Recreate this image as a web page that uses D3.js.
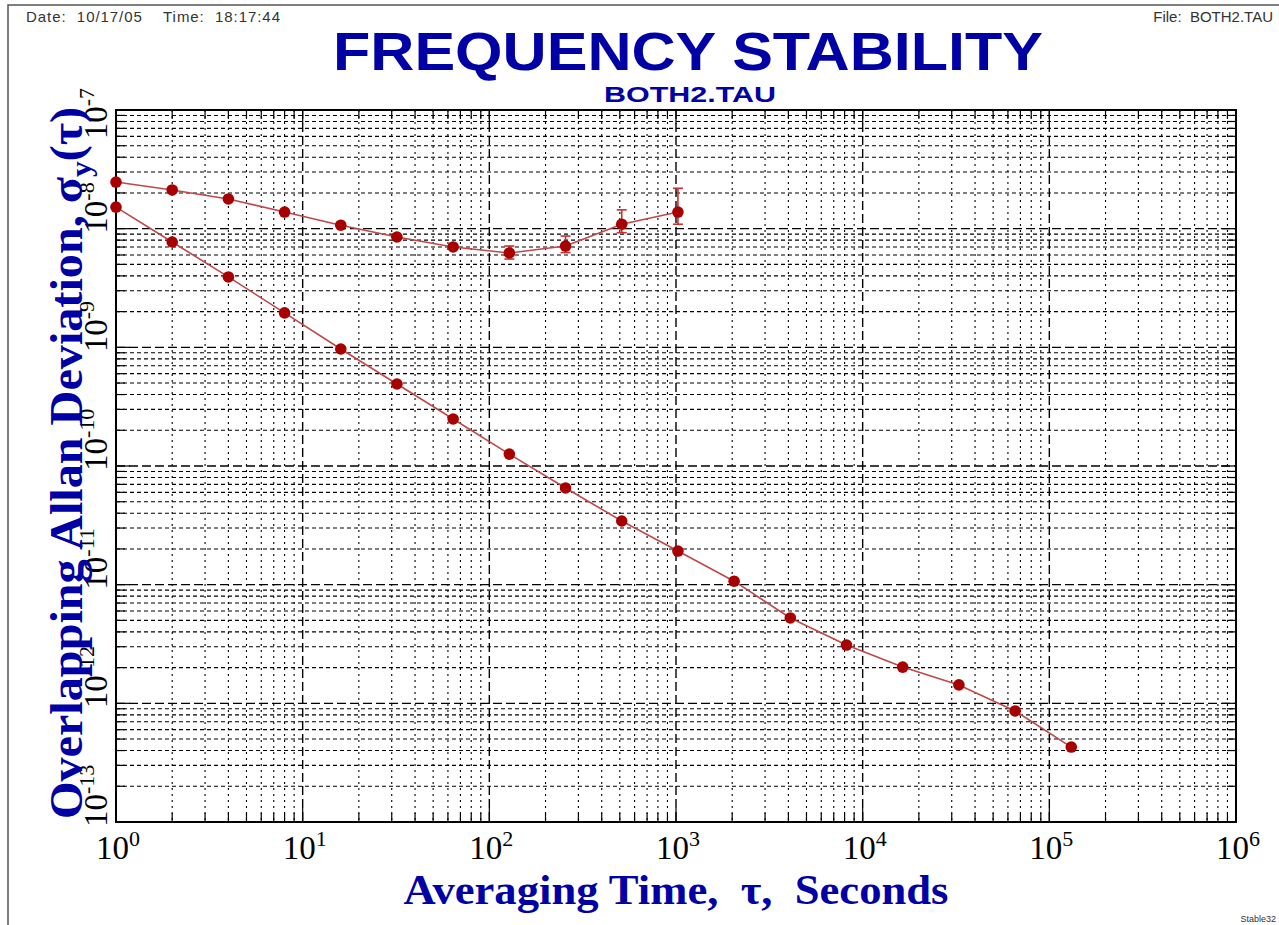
<!DOCTYPE html>
<html>
<head>
<meta charset="utf-8">
<script src="https://cdn.jsdelivr.net/npm/d3@7"></script>
<style>
  body { margin: 0; background: #fff; }
</style>
</head>
<body>
<svg id="chart" width="1279" height="925"></svg>
<script>
// averaging times and Allan deviation values
const tauLower = [1, 2, 4, 8, 16, 32, 64, 128, 256, 512, 1024, 2048, 4096, 8192, 16384, 32768, 65536, 131072];
const adevLower = [1.52e-8, 7.72e-9, 3.92e-9, 1.95e-9, 9.68e-10, 4.91e-10, 2.49e-10, 1.26e-10, 6.53e-11,
    3.44e-11, 1.92e-11, 1.07e-11, 5.24e-12, 3.10e-12, 2.02e-12, 1.43e-12, 8.63e-13, 4.28e-13];

const tauUpper = [1, 2, 4, 8, 16, 32, 64, 128, 256, 512, 1024];
const adevUpper = [2.47e-8, 2.12e-8, 1.78e-8, 1.38e-8, 1.07e-8, 8.51e-9, 7.01e-9, 6.24e-9, 7.14e-9, 1.09e-8, 1.38e-8];
// error bar bounds (null where the bar is hidden by the dot)
const errLoUpper = [null, null, null, null, null, null, null, 5.55e-9, 6.28e-9, 9.25e-9, 1.09e-8];
const errHiUpper = [null, null, null, null, null, null, null, 7.14e-9, 8.67e-9, 1.44e-8, 2.19e-8];

const xTickExps = [0, 1, 2, 3, 4, 5, 6];
const yTickExps = [-13, -12, -11, -10, -9, -8, -7];

const width = 1279, height = 925;
const margin = { left: 116, right: 1236, top: 110, bottom: 822 };
const blue = "#0000a4";
const red = "#a80000";

const svg = d3.select("#chart");

const x = d3.scaleLog().domain([1, 1e6]).range([margin.left, margin.right]);
const y = d3.scaleLog().domain([1e-13, 1e-7]).range([margin.bottom, margin.top]);

const isMajor = v => Math.abs(Math.log10(v) - Math.round(Math.log10(v))) < 1e-9;

// page frame
svg.append("path")
    .attr("d", `M8,${height} L8,5 L${width},5`)
    .attr("fill", "none")
    .attr("stroke", "#555")
    .attr("stroke-width", 1.5);

// header
svg.append("text")
    .attr("x", 26).attr("y", 22)
    .style("font-family", "Liberation Sans, Arial, sans-serif")
    .style("font-size", "15px")
    .attr("fill", "#333")
    .attr("xml:space", "preserve")
    .attr("textLength", 254)
    .text("Date:  10/17/05    Time:  18:17:44");

svg.append("text")
    .attr("x", 1273).attr("y", 22)
    .attr("text-anchor", "end")
    .style("font-family", "Liberation Sans, Arial, sans-serif")
    .style("font-size", "15px")
    .attr("fill", "#333")
    .attr("xml:space", "preserve")
    .text("File:  BOTH2.TAU");

// title
svg.append("text")
    .attr("x", 688).attr("y", 70)
    .attr("text-anchor", "middle")
    .style("font-family", "Liberation Sans, Arial, sans-serif")
    .style("font-weight", "bold")
    .style("font-size", "54px")
    .attr("fill", blue)
    .attr("textLength", 710)
    .attr("lengthAdjust", "spacingAndGlyphs")
    .text("FREQUENCY STABILITY");

svg.append("text")
    .attr("x", 690).attr("y", 102)
    .attr("text-anchor", "middle")
    .style("font-family", "Liberation Sans, Arial, sans-serif")
    .style("font-weight", "bold")
    .style("font-size", "22px")
    .attr("fill", blue)
    .attr("textLength", 172)
    .attr("lengthAdjust", "spacingAndGlyphs")
    .text("BOTH2.TAU");

// grid
const grid = svg.append("g");
const xTicks = x.ticks().filter(t => t > 1 && t < 1e6);
const yTicks = y.ticks().filter(t => t > 1e-13 * 1.0001 && t < 1e-7 * 0.9999);

grid.selectAll(".vgrid")
    .data(xTicks)
    .join("line")
    .attr("x1", d => x(d)).attr("x2", d => x(d))
    .attr("y1", margin.top).attr("y2", margin.bottom)
    .attr("stroke", "#000")
    .attr("stroke-width", d => isMajor(d) ? 1.4 : 1.1)
    .attr("stroke-dasharray", d => isMajor(d) ? "9,4" : "2,4");

grid.selectAll(".hgrid")
    .data(yTicks)
    .join("line")
    .attr("y1", d => y(d)).attr("y2", d => y(d))
    .attr("x1", margin.left).attr("x2", margin.right)
    .attr("stroke", "#000")
    .attr("stroke-width", d => isMajor(d) ? 1.4 : 1.1)
    .attr("stroke-dasharray", d => isMajor(d) ? "9,4" : "4,3");

// solid tick marks on all four sides
const tk = svg.append("g").attr("stroke", "#000").attr("stroke-width", 1.2);
xTicks.forEach(t => {
    const len = isMajor(t) ? 14 : 9;
    tk.append("line").attr("x1", x(t)).attr("x2", x(t)).attr("y1", margin.bottom).attr("y2", margin.bottom - len);
    tk.append("line").attr("x1", x(t)).attr("x2", x(t)).attr("y1", margin.top).attr("y2", margin.top + len);
});
yTicks.forEach(t => {
    const len = isMajor(t) ? 14 : 9;
    tk.append("line").attr("y1", y(t)).attr("y2", y(t)).attr("x1", margin.left).attr("x2", margin.left + len);
    tk.append("line").attr("y1", y(t)).attr("y2", y(t)).attr("x1", margin.right).attr("x2", margin.right - len);
});

// plot frame
svg.append("rect")
    .attr("x", margin.left).attr("y", margin.top)
    .attr("width", margin.right - margin.left)
    .attr("height", margin.bottom - margin.top)
    .attr("fill", "none")
    .attr("stroke", "#000")
    .attr("stroke-width", 2);

// x tick labels
const xl = svg.append("g")
    .style("font-family", "Liberation Serif, Times New Roman, serif")
    .attr("fill", "#000");
xTickExps.forEach(e => {
    const t = xl.append("text")
        .attr("x", x(Math.pow(10, e)) + 2)
        .attr("y", 859)
        .attr("text-anchor", "middle")
        .style("font-size", "33px");
    t.append("tspan").text("10");
    t.append("tspan").attr("dy", -13).style("font-size", "22px").text(e);
});

// y tick labels (rotated)
const yl = svg.append("g")
    .style("font-family", "Liberation Serif, Times New Roman, serif")
    .attr("fill", "#000");
yTickExps.forEach(e => {
    const g = yl.append("g");
    const t = g.append("text")
        .attr("text-anchor", "start")
        .style("font-size", "33px");
    t.append("tspan").text("10");
    t.append("tspan").attr("dy", -13).style("font-size", "22px").text(e);
    const len = t.node().getComputedTextLength();
    const start = Math.max(y(Math.pow(10, e)) + 5, 88 + len);
    g.attr("transform", `translate(107, ${start}) rotate(-90)`);
});

// axis titles
svg.append("text")
    .attr("x", 676).attr("y", 904)
    .attr("text-anchor", "middle")
    .style("font-family", "Liberation Serif, Times New Roman, serif")
    .style("font-weight", "bold")
    .style("font-size", "42px")
    .attr("fill", blue)
    .attr("textLength", 545)
    .attr("lengthAdjust", "spacingAndGlyphs")
    .attr("xml:space", "preserve")
    .text("Averaging Time,  \u03c4,  Seconds");

const yt = svg.append("text")
    .attr("transform", "translate(82, 463) rotate(-90)")
    .attr("text-anchor", "middle")
    .style("font-family", "Liberation Serif, Times New Roman, serif")
    .style("font-weight", "bold")
    .style("font-size", "46px")
    .attr("fill", blue)
    .attr("textLength", 712)
    .attr("lengthAdjust", "spacingAndGlyphs");
yt.append("tspan").text("Overlapping Allan Deviation, \u03c3");
yt.append("tspan").attr("dy", 9).style("font-size", "30px").text("y");
yt.append("tspan").attr("dy", -9).text("(\u03c4)");

// data
const line = d3.line().x(d => x(d.tau)).y(d => y(d.v));
const lower = tauLower.map((t, i) => ({ tau: t, v: adevLower[i] }));
const upper = tauUpper.map((t, i) => ({ tau: t, v: adevUpper[i], lo: errLoUpper[i], hi: errHiUpper[i] }));

[lower, upper].forEach(series => {
    svg.append("path")
        .datum(series)
        .attr("fill", "none")
        .attr("stroke", "#c04848")
        .attr("stroke-width", 1.6)
        .attr("d", line);
});

// error bars
const eb = svg.append("g").attr("stroke", "#c83030").attr("stroke-width", 1.6);
upper.filter(d => d.lo != null).forEach(d => {
    const cx = x(d.tau);
    eb.append("line").attr("x1", cx).attr("x2", cx).attr("y1", y(d.hi)).attr("y2", y(d.lo));
    eb.append("line").attr("x1", cx - 5).attr("x2", cx + 5).attr("y1", y(d.hi)).attr("y2", y(d.hi));
    eb.append("line").attr("x1", cx - 5).attr("x2", cx + 5).attr("y1", y(d.lo)).attr("y2", y(d.lo));
});

[lower, upper].forEach(series => {
    svg.append("g").selectAll("circle")
        .data(series)
        .join("circle")
        .attr("cx", d => x(d.tau))
        .attr("cy", d => y(d.v))
        .attr("r", 5.8)
        .attr("fill", red);
});

// footer tag
svg.append("text")
    .attr("x", 1276).attr("y", 922)
    .attr("text-anchor", "end")
    .style("font-family", "Liberation Sans, Arial, sans-serif")
    .style("font-size", "9px")
    .attr("fill", "#333")
    .text("Stable32");
</script>
</body>
</html>
